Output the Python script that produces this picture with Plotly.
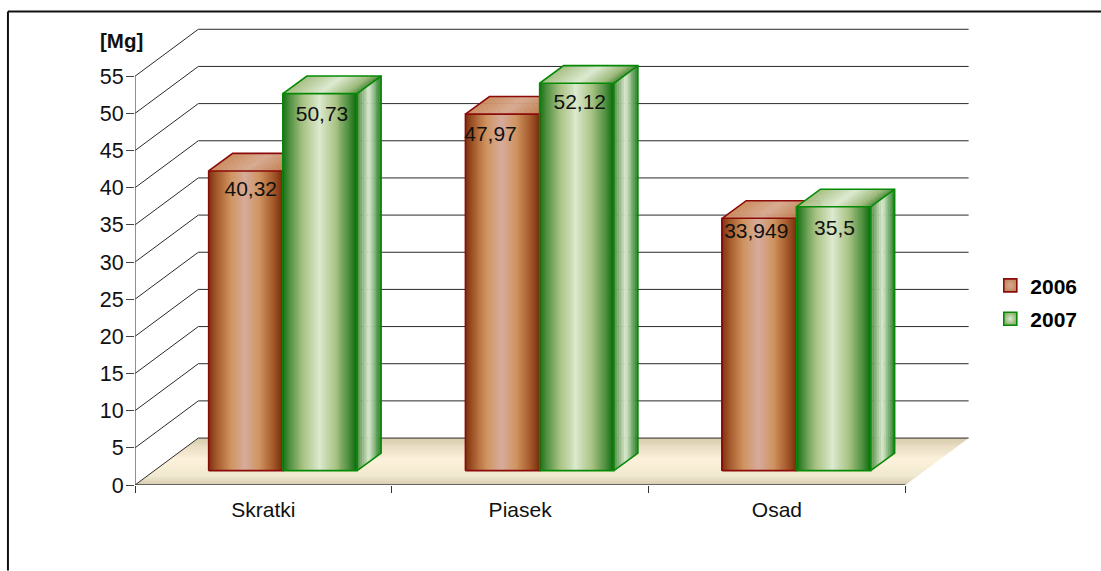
import plotly.graph_objects as go

# ---- data ----
categories = ["Skratki", "Piasek", "Osad"]
series_names = ["2006", "2007"]
values_2006 = [40.32, 47.97, 33.949]
values_2007 = [50.73, 52.12, 35.5]
y_ticks = list(range(0, 60, 5))
y_unit = "[Mg]"

# ---- page geometry (pixels) ----
W, H = 1101, 571
L, R, T, B = 135.0, 968.7, 14.0, 485.5
PX_X = 256.67      # pixels per category
PX_Y = 7.44        # pixels per y unit
xr = (-0.5, -0.5 + (R - L) / PX_X)
yr = (0, (B - T) / PX_Y)

def ux(px): return px / PX_X
def uy(px): return px / PX_Y
def paper_x(px): return (px - L) / (R - L)
def paper_y(py): return (B - py) / (B - T)

WALL_DX, WALL_DY = ux(63.3), uy(47.0)
BAR_SHIFT_X, BAR_SHIFT_Y = ux(19.5), uy(14.4)
DEPTH_X, DEPTH_Y = ux(24.0), uy(17.6)
BAR_W = ux(74.2)

def lerp(c1, c2, t):
    return tuple(a + (b - a) * t for a, b in zip(c1, c2))

def hexrgb(h):
    h = h.lstrip("#")
    return tuple(int(h[i:i + 2], 16) for i in (0, 2, 4))

def ramp(stops, t):
    for (t0, c0), (t1, c1) in zip(stops, stops[1:]):
        if t <= t1:
            c = lerp(hexrgb(c0), hexrgb(c1), (t - t0) / (t1 - t0) if t1 > t0 else 0)
            return "rgb(%d,%d,%d)" % tuple(round(v) for v in c)
    return stops[-1][1]

FRONT = {
    "2006": [(0, "#7a2f10"), (.12, "#a55a2b"), (.30, "#cf935f"), (.5, "#d6ab9c"),
             (.70, "#cf935f"), (.88, "#a55a2b"), (1, "#7a2f10")],
    "2007": [(0, "#0f6f0f"), (.10, "#4f8f40"), (.28, "#a8c283"), (.5, "#dce9cf"),
             (.72, "#a8c283"), (.90, "#4f8f40"), (1, "#0f6f0f")],
}
TOP = {
    "2006": [(0, "#c98a5a"), (.5, "#d6a88e"), (1, "#c07c4c")],
    "2007": [(0, "#a3bd7e"), (.5, "#dce9cf"), (.85, "#9ab877"), (1, "#4f8a3e")],
}
SIDE = {
    "2006": [(0, "#8a4420"), (.5, "#d6a88e"), (1, "#8a4420")],
    "2007": [(0, "#4c8a3f"), (.5, "#dce9cf"), (1, "#1f7a1f")],
}
EDGE = {"2006": "#8b0a0a", "2007": "#068a06"}
SWATCH = {"2006": ("#d6a88e", "#c08a60"), "2007": ("#dce9cf", "#8fb070")}

shapes = []

def poly(pts, fill, line=None, width=0, layer="below"):
    d = "M " + " L ".join(f"{x:.5f},{y:.5f}" for x, y in pts) + " Z"
    shapes.append(dict(type="path", path=d, xref="x", yref="y", fillcolor=fill, layer=layer,
                       line=dict(color=line or fill, width=width)))

def seg(pts, color, width=1):
    d = "M " + " L ".join(f"{x:.5f},{y:.5f}" for x, y in pts)
    shapes.append(dict(type="path", path=d, xref="x", yref="y", layer="below",
                       line=dict(color=color, width=width)))

# outer frame (only the top and left edges reach the picture)
for x0, y0, x1, y1 in [(8, 11.5, W, 11.5), (8, 11.5, 8, H)]:
    shapes.append(dict(type="line", xref="paper", yref="paper", layer="below",
                       x0=paper_x(x0), x1=paper_x(x1), y0=paper_y(y0), y1=paper_y(y1),
                       line=dict(color="#111111", width=2)))

# floor, shaded from back to front
FLOOR = [(0, "#d9cdb0"), (.45, "#fdf0d8"), (.8, "#f0e8d0"), (1, "#d6cbb0")]
x_left, x_right = -0.5, 2.5
N_FLOOR = 24
for i in range(N_FLOOR):
    a, b = i / N_FLOOR, (i + 1.15) / N_FLOOR
    b = min(b, 1)
    poly([(x_left + WALL_DX * a, WALL_DY * a), (x_right + WALL_DX * a, WALL_DY * a),
          (x_right + WALL_DX * b, WALL_DY * b), (x_left + WALL_DX * b, WALL_DY * b)],
         ramp(FLOOR, 1 - (a + b) / 2))

# gridlines: up the side wall and along the back wall
for v in y_ticks:
    seg([(x_left, v), (x_left + WALL_DX, v + WALL_DY), (x_right + WALL_DX, v + WALL_DY)], "#2a2a2a", 1)

# axis lines
seg([(x_left, 0), (x_left, max(y_ticks))], "#555555", 1.3)
seg([(x_left, 0), (x_right, 0)], "#444444", 1.5)

# ---- bars: side and top faces as shapes, front faces as real bars ----
N = 75
N_TOP = 30
traces = []
series = {"2006": values_2006, "2007": values_2007}
for si, name in enumerate(series_names):
    xs, ys, cols = [], [], []
    for ci, v in enumerate(series[name]):
        x0 = ci - BAR_W + BAR_SHIFT_X + si * BAR_W
        base = BAR_SHIFT_Y
        top = base + v
        # side face
        for k in range(14):
            a, b = k / 14, min((k + 1.2) / 14, 1)
            sx = x0 + BAR_W
            poly([(sx + DEPTH_X * a, base + DEPTH_Y * a), (sx + DEPTH_X * b, base + DEPTH_Y * b),
                  (sx + DEPTH_X * b, top + DEPTH_Y * b), (sx + DEPTH_X * a, top + DEPTH_Y * a)],
                 ramp(SIDE[name], (a + b) / 2))
        # top face
        for k in range(N_TOP):
            a, b = k / N_TOP, min((k + 1.2) / N_TOP, 1)
            poly([(x0 + BAR_W * a, top), (x0 + BAR_W * b, top),
                  (x0 + BAR_W * b + DEPTH_X, top + DEPTH_Y), (x0 + BAR_W * a + DEPTH_X, top + DEPTH_Y)],
                 ramp(TOP[name], (a + b) / 2))
        # edges of side and top
        sx = x0 + BAR_W
        seg([(x0, top), (x0 + DEPTH_X, top + DEPTH_Y), (sx + DEPTH_X, top + DEPTH_Y),
             (sx + DEPTH_X, base + DEPTH_Y), (sx, base)], EDGE[name], 1.6)
        seg([(sx, top), (sx + DEPTH_X, top + DEPTH_Y)], EDGE[name], 1.6)
        # front strips
        for k in range(N):
            xs.append(x0 + BAR_W * (k + .5) / N)
            ys.append(v)
            cols.append(ramp(FRONT[name], (k + .5) / N))
    traces.append(go.Bar(x=xs, y=ys, base=BAR_SHIFT_Y, width=BAR_W / N * 1.6,
                         marker=dict(color=cols, line=dict(width=0)),
                         showlegend=False, hoverinfo="skip"))

# front outlines, on top of the bars
for si, name in enumerate(series_names):
    ox, oy = [], []
    for ci, v in enumerate(series[name]):
        x0 = ci - BAR_W + BAR_SHIFT_X + si * BAR_W
        ox += [x0, x0 + BAR_W, x0 + BAR_W, x0, x0, None]
        oy += [BAR_SHIFT_Y, BAR_SHIFT_Y, BAR_SHIFT_Y + v, BAR_SHIFT_Y + v, BAR_SHIFT_Y, None]
    traces.append(go.Scatter(x=ox, y=oy, mode="lines", line=dict(color=EDGE[name], width=1.6),
                             showlegend=False, hoverinfo="skip"))

# data labels (pixel nudges from the centre of each bar's top edge)
label_dx = {"2006": [5, -12, -3], "2007": [2, 3, 1]}
label_dy = {"2006": [-20, -22, -14], "2007": [-22, -21, -23]}
for si, name in enumerate(series_names):
    lx, ly, lt = [], [], []
    for ci, v in enumerate(series[name]):
        x0 = ci - BAR_W + BAR_SHIFT_X + si * BAR_W
        lx.append(x0 + BAR_W / 2 + ux(label_dx[name][ci]))
        ly.append(BAR_SHIFT_Y + v + uy(label_dy[name][ci]))
        lt.append(str(v).replace(".", ","))
    traces.append(go.Scatter(x=lx, y=ly, mode="text", text=lt, textposition="middle center",
                             textfont=dict(family="Liberation Sans", size=21, color="#111111"),
                             showlegend=False, hoverinfo="skip"))

# legend entries
for name in series_names:
    traces.append(go.Scatter(x=[None], y=[None], mode="markers", name=name, legendgroup=name,
                             marker=dict(symbol="square", size=13, color=SWATCH[name][1],
                                         gradient=dict(type="radial", color=SWATCH[name][0]),
                                         line=dict(color=EDGE[name], width=1.6))))

fig = go.Figure(traces)
fig.update_layout(
    width=W, height=H, autosize=False,
    margin=dict(l=L, r=W - R, t=T, b=H - B, pad=0, autoexpand=False),
    paper_bgcolor="white", plot_bgcolor="rgba(0,0,0,0)",
    barmode="overlay", bargap=0,
    font=dict(family="Liberation Sans", size=20, color="#111111"),
    shapes=shapes,
    xaxis=dict(range=xr, tickvals=[0, 1, 2], ticktext=categories, ticks="", showgrid=False,
               zeroline=False, showline=False, ticklabelstandoff=10, tickfont=dict(size=21),
               minor=dict(tickvals=[-0.5, 0.5, 1.5, 2.5], ticks="outside", ticklen=7, tickwidth=1.3,
                          tickcolor="#333333", showgrid=False)),
    yaxis=dict(range=yr, tickvals=y_ticks, ticks="outside", ticklen=8, tickwidth=1.3, tickcolor="#444444",
               showgrid=False, zeroline=False, showline=False, ticklabelstandoff=-2, tickfont=dict(size=21.5)),
    legend=dict(x=paper_x(990), y=paper_y(265.5), xanchor="left", yanchor="top", bgcolor="rgba(0,0,0,0)",
                font=dict(size=21, family="Liberation Sans", color="#000000", weight="bold"),
                traceorder="grouped", tracegroupgap=3),
    annotations=[dict(text=f"<b>{y_unit}</b>", xref="paper", yref="paper",
                      x=paper_x(122), y=paper_y(41), xanchor="center", yanchor="middle", showarrow=False,
                      font=dict(size=20.5, family="Liberation Sans", color="#111111"))],
)
fig.write_html("out.html", config={"displayModeBar": False}, post_script="document.body.style.margin='0';")
